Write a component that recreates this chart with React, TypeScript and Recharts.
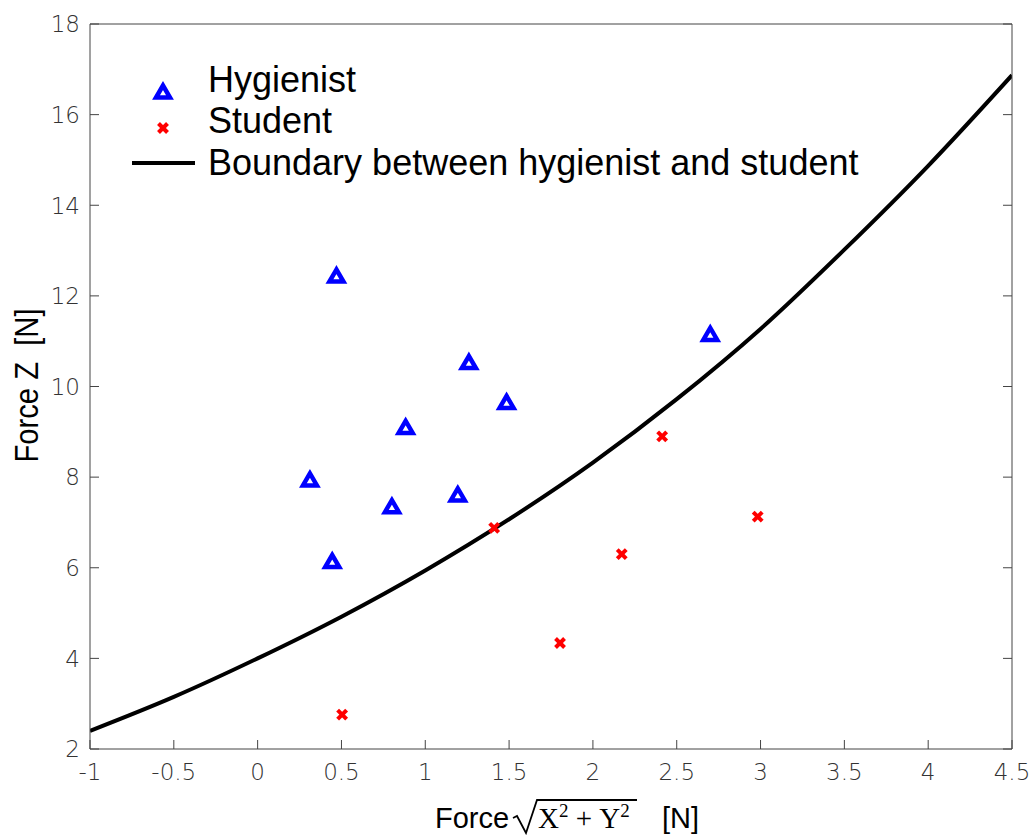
import React from 'react';
import { ComposedChart, Scatter, Line, XAxis, YAxis, Legend, Label } from 'recharts';

// values
const xTicks = [-1, -0.5, 0, 0.5, 1, 1.5, 2, 2.5, 3, 3.5, 4, 4.5];
const yTicks = [2, 4, 6, 8, 10, 12, 14, 16, 18];

const hygienist = [
  { x: 0.47, y: 12.46 },
  { x: 1.26, y: 10.55 },
  { x: 1.485, y: 9.67 },
  { x: 0.883, y: 9.12 },
  { x: 0.312, y: 7.96 },
  { x: 1.194, y: 7.63 },
  { x: 0.801, y: 7.37 },
  { x: 0.445, y: 6.16 },
  { x: 2.7, y: 11.17 },
];

const student = [
  { x: 2.413, y: 8.9 },
  { x: 2.983, y: 7.13 },
  { x: 1.411, y: 6.88 },
  { x: 2.172, y: 6.3 },
  { x: 1.804, y: 4.34 },
  { x: 0.504, y: 2.76 },
];

const boundary = [
  { x: -1, y: 2.4 },
  { x: -0.5, y: 3.15 },
  { x: 0, y: 4.0 },
  { x: 0.5, y: 4.92 },
  { x: 1, y: 5.94 },
  { x: 1.5, y: 7.07 },
  { x: 2, y: 8.32 },
  { x: 2.5, y: 9.72 },
  { x: 3, y: 11.27 },
  { x: 3.5, y: 13.02 },
  { x: 4, y: 14.87 },
  { x: 4.5, y: 16.87 },
];

const legendLabels = ['Hygienist', 'Student', 'Boundary between hygienist and student'];

const AXIS = '#444';
const TICK = 9;
const BLUE = '#0000ff';
const RED = '#ff0000';

const tickText = {
  fontFamily: '"DejaVu Sans", sans-serif',
  fontWeight: 200,
  fontSize: 23,
  fill: '#333',
};

const Triangle = ({ cx, cy }: any) => (
  <polygon
    points={`${cx},${cy - 5.5} ${cx - 7},${cy + 6.5} ${cx + 7},${cy + 6.5}`}
    fill="#fff"
    stroke={BLUE}
    strokeWidth={4.5}
  />
);

const Cross = ({ cx, cy }: any) => (
  <g stroke={RED} strokeWidth={4}>
    <line x1={cx - 4.5} y1={cy - 4.5} x2={cx + 4.5} y2={cy + 4.5} />
    <line x1={cx - 4.5} y1={cy + 4.5} x2={cx + 4.5} y2={cy - 4.5} />
  </g>
);

// ticks point inward on all four sides
const BottomTick = ({ x, y, payload }: any) => (
  <g>
    <line x1={x} x2={x} y1={y} y2={y - TICK} stroke={AXIS} />
    <text x={x} y={y + 31} textAnchor="middle" {...tickText}>
      {payload.value}
    </text>
  </g>
);

const LeftTick = ({ x, y, payload }: any) => (
  <g>
    <line x1={x} x2={x + TICK} y1={y} y2={y} stroke={AXIS} />
    <text x={x - 10} y={y} dy="0.36em" textAnchor="end" {...tickText}>
      {payload.value}
    </text>
  </g>
);

const TopTick = ({ x, y }: any) => <line x1={x} x2={x} y1={y} y2={y + TICK} stroke={AXIS} />;
const RightTick = ({ x, y }: any) => <line x1={x} x2={x - TICK} y1={y} y2={y} stroke={AXIS} />;

const XLabel = ({ viewBox }: any) => {
  const cx = viewBox.x + viewBox.width / 2;
  const by = viewBox.y + 79;
  return (
    <g fill="#000">
      <text x={cx - 116} y={by} fontSize={29} fontFamily="Liberation Sans">Force</text>
      <path
        d={`M ${cx - 38} ${by - 10} L ${cx - 34} ${by - 12} L ${cx - 25} ${by + 5} L ${cx - 14} ${by - 28} L ${cx + 86} ${by - 28}`}
        fill="none"
        stroke="#000"
        strokeWidth={1.8}
      />
      <text x={cx - 13} y={by} fontSize={29} fontFamily="Liberation Serif">
        X<tspan dy={-11} fontSize={19}>2</tspan>
        <tspan dy={11}>{'\u00a0+\u00a0Y'}</tspan>
        <tspan dy={-11} fontSize={19}>2</tspan>
      </text>
      <text x={cx + 111} y={by} fontSize={29} fontFamily="Liberation Sans">[N]</text>
    </g>
  );
};

const YLabel = ({ viewBox }: any) => {
  const x = viewBox.x + 8;
  const y = viewBox.y + viewBox.height / 2 - 1;
  return (
    <text
      x={x}
      y={y}
      transform={`rotate(-90, ${x}, ${y})`}
      textAnchor="middle"
      fontSize={33}
      fontFamily="Liberation Sans"
      textLength={154}
      lengthAdjust="spacingAndGlyphs"
      fill="#000"
    >
      {'Force Z\u00a0\u00a0[N]'}
    </text>
  );
};

const renderLegend = () => (
  <svg width={900} height={200} style={{ display: 'block' }}>
    <Triangle cx={163} cy={91} />
    <text x={208} y={92} fontSize={36} fontFamily="Liberation Sans" fill="#000">{legendLabels[0]}</text>
    <Cross cx={163} cy={128} />
    <text x={208} y={133} fontSize={36} fontFamily="Liberation Sans" fill="#000">{legendLabels[1]}</text>
    <line x1={132} x2={195} y1={163} y2={163} stroke="#000" strokeWidth={4} />
    <text x={208} y={175} fontSize={36} fontFamily="Liberation Sans" fill="#000">{legendLabels[2]}</text>
  </svg>
);

export default function App() {
  return (
    <div style={{ position: 'absolute', left: 0, top: 0, background: '#fff', fontFamily: 'Liberation Sans' }}>
      <ComposedChart width={1033} height={837} margin={{ top: 22, right: 19, bottom: 0, left: 30 }}>
        <XAxis
          dataKey="x"
          type="number"
          domain={[-1, 4.5]}
          ticks={xTicks}
          interval={0}
          allowDataOverflow
          height={88}
          tickSize={0}
          tickMargin={0}
          stroke={AXIS}
          tick={<BottomTick />}
        >
          <Label content={<XLabel />} />
        </XAxis>
        <XAxis
          xAxisId="top"
          orientation="top"
          type="number"
          domain={[-1, 4.5]}
          ticks={xTicks}
          interval={0}
          allowDataOverflow
          height={2}
          tickSize={0}
          tickMargin={0}
          stroke={AXIS}
          tick={<TopTick />}
        />
        <YAxis
          type="number"
          domain={[2, 18]}
          ticks={yTicks}
          interval={0}
          allowDataOverflow
          width={60}
          tickSize={0}
          tickMargin={0}
          stroke={AXIS}
          tick={<LeftTick />}
        >
          <Label content={<YLabel />} />
        </YAxis>
        <YAxis
          yAxisId="right"
          orientation="right"
          type="number"
          domain={[2, 18]}
          ticks={yTicks}
          interval={0}
          allowDataOverflow
          width={2}
          tickSize={0}
          tickMargin={0}
          stroke={AXIS}
          tick={<RightTick />}
        />
        <Legend
          layout="vertical"
          align="center"
          verticalAlign="middle"
          content={renderLegend}
          wrapperStyle={{ left: 0, top: 0, width: 900, height: 200 }}
        />
        <Line
          data={boundary}
          dataKey="y"
          type="monotone"
          stroke="#000"
          strokeWidth={4}
          dot={false}
          activeDot={false}
          isAnimationActive={false}
          legendType="none"
        />
        <Scatter data={hygienist} dataKey="y" shape={<Triangle />} isAnimationActive={false} />
        <Scatter data={student} dataKey="y" shape={<Cross />} isAnimationActive={false} />
      </ComposedChart>
    </div>
  );
}
